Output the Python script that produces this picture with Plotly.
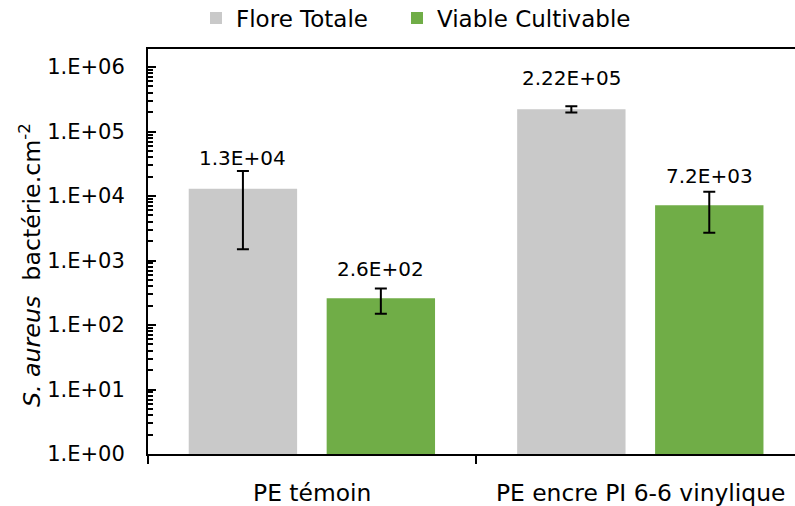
import math
import plotly.graph_objects as go

categories = ["PE témoin", "PE encre PI 6-6 vinylique"]
flore_totale = [1.3e4, 2.22e5]
flore_totale_err = [1.15e4, 2.5e4]
viable_cultivable = [2.6e2, 7.2e3]
viable_cultivable_err = [1.1e2, 4.5e3]
flore_labels = ["1.3E+04", "2.22E+05"]
viable_labels = ["2.6E+02", "7.2E+03"]
ytick_vals = [1, 10, 100, 1e3, 1e4, 1e5, 1e6]
ytick_text = ["1.E+00", "1.E+01", "1.E+02", "1.E+03", "1.E+04", "1.E+05", "1.E+06"]

FONT = "DejaVu Sans"
GRAY = "#C9C9C9"
GREEN = "#70AD47"
OFF_G, OFF_V, BW = -0.376, 0.044, 0.33
W, H, L, T, B, R = 795, 506, 148, 49, 52, 0
PW, PH = W - L - R, H - T - B

minor_vals = [m * 10 ** k for k in range(0, 7) for m in range(2, 10)]

fig = go.Figure()
fig.add_trace(go.Bar(
    name="Flore Totale", x=categories, y=flore_totale, legend="legend",
    offset=OFF_G, width=BW, marker=dict(color=GRAY, line=dict(width=0)),
    error_y=dict(type="data", array=flore_totale_err, visible=True,
                 color="black", thickness=2, width=6),
))
fig.add_trace(go.Bar(
    name="Viable Cultivable", x=categories, y=viable_cultivable, legend="legend2",
    offset=OFF_V, width=BW, marker=dict(color=GREEN, line=dict(width=0)),
    error_y=dict(type="data", array=viable_cultivable_err, visible=True,
                 color="black", thickness=2, width=6),
))

annotations = []
for i, (v, t) in enumerate(zip(flore_totale, flore_labels)):
    annotations.append(dict(x=i + OFF_G + BW / 2, y=math.log10(v), xref="x", yref="y",
                            text=t, showarrow=False, yshift=31,
                            font=dict(family=FONT, size=20, color="black")))
for i, (v, t) in enumerate(zip(viable_cultivable, viable_labels)):
    annotations.append(dict(x=i + OFF_V + BW / 2, y=math.log10(v), xref="x", yref="y",
                            text=t, showarrow=False, yshift=29,
                            font=dict(family=FONT, size=20, color="black")))
annotations.append(dict(
    x=(30 - L) / PW, y=(H - B - 265) / PH,
    xref="paper", yref="paper", xanchor="center", yanchor="middle", showarrow=False,
    text="<i>S. aureus</i>&nbsp; bactérie.cm<sup>-2</sup>", textangle=-90,
    font=dict(family=FONT, size=23.7, color="black"),
))

legend_common = dict(orientation="h", xanchor="left", yanchor="middle",
                     y=1 + (49 - 18) / PH,
                     font=dict(family=FONT, size=23, color="black"),
                     bgcolor="rgba(0,0,0,0)")

fig.update_layout(
    width=W, height=H,
    margin=dict(l=L, r=R, t=T, b=B, autoexpand=False),
    paper_bgcolor="white", plot_bgcolor="white",
    font=dict(family=FONT, color="black"),
    barmode="group",
    showlegend=True,
    legend=dict(x=(196 - L) / PW, **legend_common),
    legend2=dict(x=(397 - L) / PW, **legend_common),
    annotations=annotations,
    xaxis=dict(
        type="category", range=[-0.5, 1.47],
        showline=True, linecolor="black", linewidth=2, mirror=True,
        ticks="outside", tickson="boundaries", ticklen=8, tickwidth=2, tickcolor="black",
        tickfont=dict(family=FONT, size=23.4, color="black"),
        ticklabelstandoff=17,
        showgrid=False, zeroline=False, fixedrange=True,
    ),
    yaxis=dict(
        type="log", range=[0, 6.28],
        showline=True, linecolor="black", linewidth=2, mirror=False,
        tickvals=ytick_vals, ticktext=ytick_text,
        ticks="inside", ticklen=8, tickwidth=2, tickcolor="black",
        minor=dict(tickmode="array", tickvals=minor_vals, ticks="inside", ticklen=5,
                   tickwidth=1.5, tickcolor="black", showgrid=False),
        tickfont=dict(family=FONT, size=21, color="black"),
        ticklabelstandoff=17,
        showgrid=False, zeroline=False, fixedrange=True,
    ),
)

fig.write_html("out.html", config={"displayModeBar": False},
               post_script="document.body.style.margin='0';document.body.style.overflow='hidden';")
